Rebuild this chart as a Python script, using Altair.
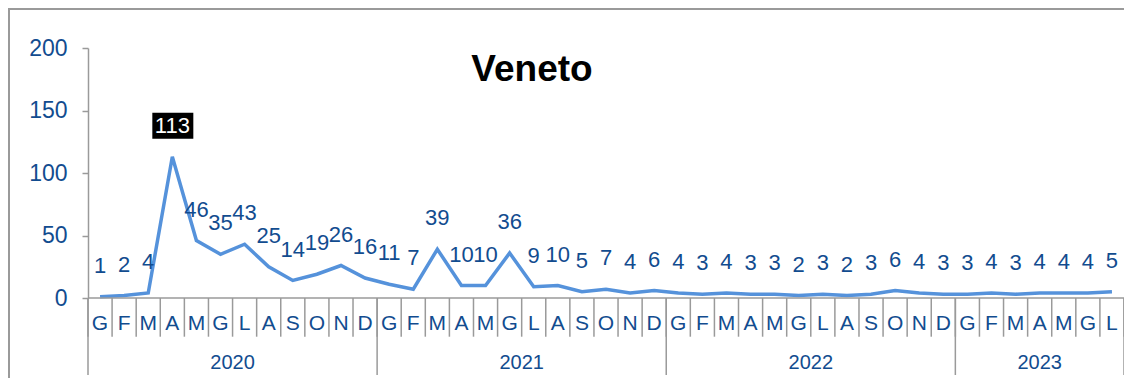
import altair as alt
import pandas as pd

months = ["G", "F", "M", "A", "M", "G", "L", "A", "S", "O", "N", "D"]
years = ["2020", "2021", "2022", "2023"]
months_per_year = [12, 12, 12, 7]
values = [1, 2, 4, 113, 46, 35, 43, 25, 14, 19, 26, 16,
          11, 7, 39, 10, 10, 36, 9, 10, 5, 7, 4, 6,
          4, 3, 4, 3, 3, 2, 3, 2, 3, 6, 4, 3,
          3, 4, 3, 4, 4, 4, 5]
y_ticks = [0, 50, 100, 150, 200]
title_text = "Veneto"
highlight_value = 113

FONT = "Liberation Sans, Arial, sans-serif"
BLUE_TXT = "#124C8F"
LINE_COL = "#5592DB"
GRAY = "#9A9A9A"

rows = []
i = 0
for y, n in zip(years, months_per_year):
    for k in range(n):
        rows.append({"i": i, "xc": i + 0.5, "v": values[i], "m": months[k], "year": y})
        i += 1
df = pd.DataFrame(rows)
N = len(df)

bounds = pd.DataFrame({"b": list(range(N + 1))})
seps = [0]
acc = 0
for n in months_per_year:
    acc += n
    seps.append(acc)
sep_df = pd.DataFrame({"b": seps})
year_df = pd.DataFrame({
    "year": years,
    "c": [(seps[k] + seps[k + 1]) / 2 for k in range(len(years))],
})
base_df = pd.DataFrame({"x0": [0], "x1": [N], "y0": [0]})

W, H = 1036, 250
xs = alt.Scale(domain=[0, N], nice=False, zero=False)
ys = alt.Scale(domain=[0, 200], nice=False)


def X(f):
    return alt.X(f, scale=xs, axis=None)


def Y(f):
    return alt.Y(f, scale=ys, axis=alt.Axis(
        values=y_ticks, labelFontSize=23, labelColor=BLUE_TXT, labelFont=FONT,
        tickColor=GRAY, tickSize=6, tickWidth=1.5, domainColor=GRAY, domainWidth=1.5,
        grid=False, title=None, labelPadding=15))


base = alt.Chart(df)

line = base.mark_line(color=LINE_COL, strokeWidth=3.5).encode(x=X("xc:Q"), y=Y("v:Q"))

labels = base.transform_filter(alt.datum.v != highlight_value).mark_text(
    dy=-31, fontSize=22, font=FONT, color=BLUE_TXT, baseline="middle", align="center"
).encode(x=X("xc:Q"), y=Y("v:Q"), text="v:Q")

hl = base.transform_filter(alt.datum.v == highlight_value)
hl_box = hl.mark_rect(color="black", xOffset=-20, x2Offset=21, yOffset=-44, y2Offset=-18).encode(
    x=X("xc:Q"), x2="xc:Q", y=Y("v:Q"), y2="v:Q")
hl_txt = hl.mark_text(dy=-31, fontSize=22, font=FONT, color="white", baseline="middle", align="center").encode(
    x=X("xc:Q"), y=Y("v:Q"), text="v:Q")

baseline = alt.Chart(base_df).mark_rule(color=GRAY, strokeWidth=1.5).encode(
    x=X("x0:Q"), x2="x1:Q", y=Y("y0:Q"))

ticks = alt.Chart(bounds).mark_rule(color=GRAY, strokeWidth=1.5).encode(
    x=X("b:Q"), y=alt.value(H), y2=alt.value(H + 38.7))
yearsep = alt.Chart(sep_df).mark_rule(color=GRAY, strokeWidth=1.5).encode(
    x=X("b:Q"), y=alt.value(H), y2=alt.value(H + 77))

month_txt = base.mark_text(fontSize=21, font=FONT, color=BLUE_TXT, baseline="middle", align="center").encode(
    x=X("xc:Q"), y=alt.value(H + 25.5), text="m:N")
year_txt = alt.Chart(year_df).mark_text(fontSize=20, font=FONT, color=BLUE_TXT, baseline="middle", align="center").encode(
    x=X("c:Q"), y=alt.value(H + 65), text="year:N")

title = alt.Chart(base_df).mark_text(text=title_text, fontSize=37, fontWeight="bold", font=FONT,
                                     color="black", baseline="middle", align="center").encode(
    x=alt.value(444), y=alt.value(22))

frame_top = alt.Chart(base_df).mark_rule(color=GRAY, strokeWidth=2).encode(
    x=alt.value(-80), x2=alt.value(W + 10), y=alt.value(-39))
frame_left = alt.Chart(base_df).mark_rule(color=GRAY, strokeWidth=2).encode(
    x=alt.value(-79), y=alt.value(-40), y2=alt.value(H + 90))

chart = alt.layer(
    line, labels, hl_box, hl_txt, baseline, ticks, yearsep,
    month_txt, year_txt, title, frame_top, frame_left
).properties(
    width=W, height=H,
    autosize=alt.AutoSizeParams(type="none"),
    padding={"left": 80, "top": 40, "right": 0, "bottom": 80},
).configure_view(stroke=None)

chart.save("out.html", embed_options={"renderer": "svg", "actions": False})
